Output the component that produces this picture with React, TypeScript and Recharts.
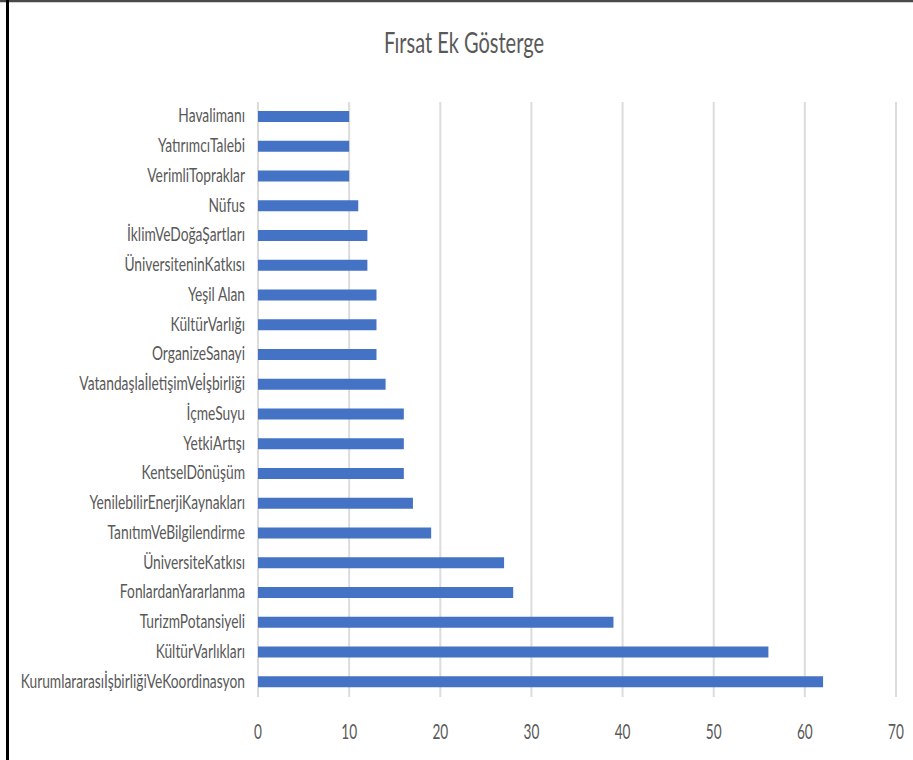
import React from 'react';
import { BarChart, Bar, XAxis, YAxis, CartesianGrid } from 'recharts';

// indicator names, top to bottom
const categories = [
    'Havalimanı',
    'YatırımcıTalebi',
    'VerimliTopraklar',
    'Nüfus',
    'İklimVeDoğaŞartları',
    'ÜniversiteninKatkısı',
    'Yeşil Alan',
    'KültürVarlığı',
    'OrganizeSanayi',
    'VatandaşlaİletişimVeİşbirliği',
    'İçmeSuyu',
    'YetkiArtışı',
    'KentselDönüşüm',
    'YenilebilirEnerjiKaynakları',
    'TanıtımVeBilgilendirme',
    'ÜniversiteKatkısı',
    'FonlardanYararlanma',
    'TurizmPotansiyeli',
    'KültürVarlıkları',
    'KurumlararasıİşbirliğiVeKoordinasyon',
];

const scores = [10, 10, 10, 11, 12, 12, 13, 13, 13, 14, 16, 16, 16, 17, 19, 27, 28, 39, 56, 62];

const xTicks = [0, 10, 20, 30, 40, 50, 60, 70];

const title = 'Fırsat Ek Gösterge';

const data = categories.map((name, i) => ({ name, value: scores[i] }));

const FONT = 'Lato, "Open Sans", sans-serif';
const TEXT = '#595959';
const SQUEEZE = 0.69;

const CategoryTick = (props: any) => {
    const { x, y, payload } = props;
    return (
        <g transform={`translate(${x - 5},${y})`}>
            <text
                transform={`scale(${SQUEEZE},1)`}
                textAnchor="end"
                dy={5.5}
                fontFamily={FONT}
                fontSize={20}
                fill={TEXT}
            >
                {payload.value}
            </text>
        </g>
    );
};

const ValueTick = (props: any) => {
    const { x, y, payload } = props;
    return (
        <g transform={`translate(${x},${y})`}>
            <text
                transform={`scale(0.62,1)`}
                textAnchor="middle"
                dy={34}
                fontFamily={FONT}
                fontSize={22}
                fill={TEXT}
            >
                {payload.value}
            </text>
        </g>
    );
};

const App: React.FC = () => {
    return (
        <div style={{ position: 'absolute', left: 0, top: 0, width: 913, height: 760, background: '#fff' }}>
            <BarChart
                width={913}
                height={760}
                data={data}
                layout="vertical"
                margin={{ top: 102, right: 17, left: 0, bottom: 0 }}
            >
                <CartesianGrid horizontal={false} stroke="#dcdcdc" strokeWidth={2} />
                <XAxis
                    type="number"
                    domain={[0, 70]}
                    ticks={xTicks}
                    height={63}
                    axisLine={false}
                    tickLine={false}
                    tick={<ValueTick />}
                />
                <YAxis
                    type="category"
                    dataKey="name"
                    width={258}
                    axisLine={false}
                    tickLine={false}
                    interval={0}
                    tick={<CategoryTick />}
                />
                <Bar dataKey="value" fill="#4472C4" barSize={11} isAnimationActive={false} />
            </BarChart>
            <svg
                width={913}
                height={760}
                style={{ position: 'absolute', left: 0, top: 0, pointerEvents: 'none' }}
            >
                <line x1={0} y1={1} x2={913} y2={1} stroke="#4a4a4a" strokeWidth={2.5} />
                <line x1={7.5} y1={0} x2={7.5} y2={760} stroke="#000" strokeWidth={3} />
                <g transform="translate(464,53)">
                    <text
                        transform={`scale(${SQUEEZE},1)`}
                        textAnchor="middle"
                        fontFamily={FONT}
                        fontSize={29}
                        fill={TEXT}
                    >
                        {title}
                    </text>
                </g>
            </svg>
        </div>
    );
};

export default App;
